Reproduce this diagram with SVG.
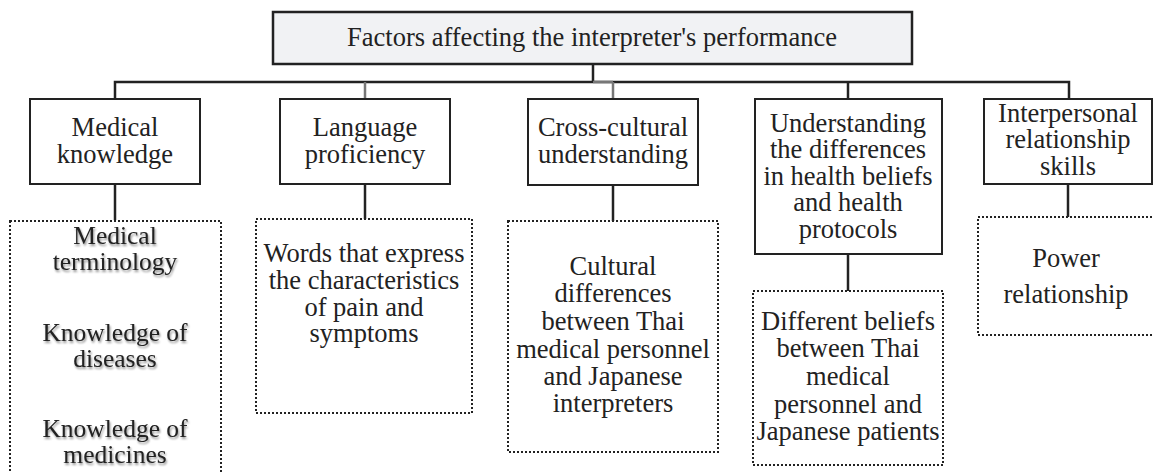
<svg xmlns="http://www.w3.org/2000/svg" width="1153" height="472" viewBox="0 0 1153 472">
<defs>
<style>
text{font-family:'Liberation Serif','Times New Roman',Tinos,'DejaVu Serif',serif;font-size:26.5px;fill:#222;text-anchor:middle}
.sm{font-size:25.5px}
.box{fill:#fff;stroke:#222;stroke-width:2}
.top{fill:#f1f2f4;stroke:#222;stroke-width:2.5}
.dot{fill:#fff;stroke:#222;stroke-width:2;stroke-dasharray:2 2}
.ln{stroke:#222;stroke-width:2.5;fill:none}
.gr{stroke:#777;stroke-width:2.5;fill:none}
.sh{filter:url(#shadow)}
</style>
<filter id="shadow" x="-10%" y="-20%" width="120%" height="140%">
<feGaussianBlur in="SourceAlpha" stdDeviation="1.2"/>
<feOffset dx="1" dy="1.5" result="b"/>
<feComponentTransfer><feFuncA type="linear" slope="0.45"/></feComponentTransfer>
<feMerge><feMergeNode/><feMergeNode in="SourceGraphic"/></feMerge>
</filter>
</defs>
<rect width="1153" height="472" fill="#fff"/>
<g id="connectors">
<line class="ln" x1="593" y1="64" x2="593" y2="82"/>
<polyline class="ln" points="115,99 115,82 1069,82 1069,99"/>
<line class="gr" x1="593" y1="82" x2="613" y2="82"/>
<line class="gr" x1="365" y1="82" x2="365" y2="99"/>
<line class="gr" x1="613" y1="82" x2="613" y2="99"/>
<line class="ln" x1="848" y1="82" x2="848" y2="99"/>
<line class="ln" x1="115" y1="184" x2="115" y2="220"/>
<line class="ln" x1="365" y1="184" x2="365" y2="219"/>
<line class="ln" x1="613" y1="185" x2="613" y2="221"/>
<line class="ln" x1="848" y1="254" x2="848" y2="291"/>
<line class="ln" x1="1068" y1="184" x2="1068" y2="217"/>
</g>
<g id="title">
<rect class="top" x="273" y="12" width="639" height="52"/>
<text x="592" y="46">Factors affecting the interpreter's performance</text>
</g>
<g id="medical-knowledge">
<rect class="box" x="30" y="99" width="170" height="85"/>
<text x="115" y="136">Medical</text>
<text x="115" y="163">knowledge</text>
</g>
<g id="language-proficiency">
<rect class="box" x="280" y="99" width="170" height="85"/>
<text x="365" y="136">Language</text>
<text x="365" y="163">proficiency</text>
</g>
<g id="cross-cultural">
<rect class="box" x="528" y="99" width="170" height="86"/>
<text x="613" y="136">Cross-cultural</text>
<text x="613" y="163">understanding</text>
</g>
<g id="understanding-differences">
<rect class="box" x="755" y="99" width="187" height="155"/>
<text x="848" y="132">Understanding</text>
<text x="848" y="158">the differences</text>
<text x="848" y="185">in health beliefs</text>
<text x="848" y="211">and health</text>
<text x="848" y="238">protocols</text>
</g>
<g id="interpersonal">
<rect class="box" x="984" y="99" width="168" height="85"/>
<text x="1068" y="122">Interpersonal</text>
<text x="1068" y="148">relationship</text>
<text x="1068" y="175">skills</text>
</g>
<g id="medical-details">
<rect class="dot" x="10" y="221" width="211" height="260"/>
<g class="sh">
<text class="sm" x="115" y="244">Medical</text>
<text class="sm" x="115" y="270">terminology</text>
<text class="sm" x="115" y="341">Knowledge of</text>
<text class="sm" x="115" y="367">diseases</text>
<text class="sm" x="115" y="437">Knowledge of</text>
<text class="sm" x="115" y="463">medicines</text>
</g>
</g>
<g id="language-details">
<rect class="dot" x="256" y="219" width="216" height="194"/>
<text x="364" y="262">Words that express</text>
<text x="364" y="289">the characteristics</text>
<text x="364" y="316">of pain and</text>
<text x="364" y="342">symptoms</text>
</g>
<g id="cultural-details">
<rect class="dot" x="508" y="221" width="210" height="231"/>
<text x="613" y="275">Cultural</text>
<text x="613" y="302">differences</text>
<text x="613" y="330">between Thai</text>
<text x="613" y="358">medical personnel</text>
<text x="613" y="385">and Japanese</text>
<text x="613" y="412">interpreters</text>
</g>
<g id="beliefs-details">
<rect class="dot" x="753" y="291" width="190" height="174"/>
<text x="848" y="330">Different beliefs</text>
<text x="848" y="357">between Thai</text>
<text x="848" y="385">medical</text>
<text x="848" y="413">personnel and</text>
<text x="848" y="440">Japanese patients</text>
</g>
<g id="power-details">
<rect class="dot" x="978" y="217" width="180" height="118"/>
<text x="1066" y="267">Power</text>
<text x="1066" y="303">relationship</text>
</g>
</svg>
